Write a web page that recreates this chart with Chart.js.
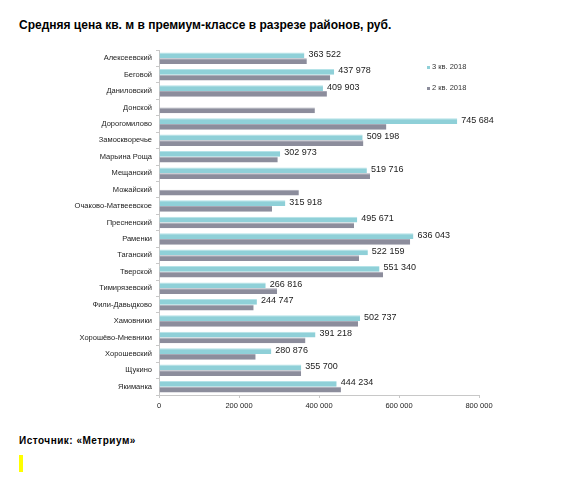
<!DOCTYPE html>
<html>
<head>
<meta charset="utf-8">
<script src="https://cdn.jsdelivr.net/npm/chart.js@4"></script>
<style>
  body { margin: 0; background: #fff; font-family: "Liberation Sans", Arial, sans-serif; }
  #wrap { position: relative; width: 561px; height: 480px; }
  #title { position: absolute; left: 19px; top: 18px; font-size: 12px; font-weight: bold; color: #000; white-space: nowrap; }
  #chartBox { position: absolute; left: 0; top: 40px; width: 561px; height: 380px; }
  .leg { position: absolute; left: 427px; font-size: 7.5px; color: #333; white-space: nowrap; }
  .leg i { display: inline-block; width: 3px; height: 3px; margin-right: 2px; vertical-align: middle; }
  #source { position: absolute; left: 19px; top: 435px; font-size: 10px; letter-spacing: 0.5px; font-weight: bold; color: #000; white-space: nowrap; }
  #mark { position: absolute; left: 19px; top: 455px; width: 4px; height: 17px; background: #ffff00; }
</style>
</head>
<body>
<div id="wrap">
  <div id="title">Средняя цена кв. м в премиум-классе в разрезе районов, руб.</div>
  <div id="chartBox"><canvas id="priceChart"></canvas></div>
  <div class="leg" style="top:62px"><i style="background:#8fd0d8"></i>3 кв. 2018</div>
  <div class="leg" style="top:83px"><i style="background:#8c8d9c"></i>2 кв. 2018</div>
  <div id="source">Источник: «Метриум»</div>
  <div id="mark"></div>
</div>
<script>
const districts = ['Алексеевский', 'Беговой', 'Даниловский', 'Донской', 'Дорогомилово', 'Замоскворечье',
    'Марьина Роща', 'Мещанский', 'Можайский', 'Очаково-Матвеевское', 'Пресненский', 'Раменки', 'Таганский',
    'Тверской', 'Тимирязевский', 'Фили-Давыдково', 'Хамовники', 'Хорошёво-Мневники', 'Хорошевский',
    'Щукино', 'Якиманка'];

// 3 кв. 2018 (null where no data)
const q3_2018 = [363522, 437978, 409903, null, 745684, 509198, 302973, 519716, null, 315918, 495671,
    636043, 522159, 551340, 266816, 244747, 502737, 391218, 280876, 355700, 444234];

// 2 кв. 2018
const q2_2018 = [369600, 428000, 419800, 389700, 568500, 511000, 296900, 527600, 349600, 282600, 487500,
    627900, 500000, 560200, 295200, 236700, 497500, 366200, 241700, 355300, 454900];

const xTicks = [0, 200000, 400000, 600000, 800000];

function fmt(v) {
    return String(v).replace(/\B(?=(\d{3})+(?!\d))/g, ' ');
}

// value labels right of the 3 кв. bars
const valueLabels = {
    id: 'valueLabels',
    afterDatasetsDraw(chart) {
        const ctx = chart.ctx;
        const meta = chart.getDatasetMeta(0);
        ctx.save();
        ctx.font = '9px "Liberation Sans", Arial, sans-serif';
        ctx.fillStyle = '#222';
        ctx.textBaseline = 'middle';
        meta.data.forEach((bar, i) => {
            const v = q3_2018[i];
            if (v == null) return;
            ctx.fillText(fmt(v), bar.x + 4, bar.y - 1);
        });
        ctx.restore();
    }
};

const ctx = document.getElementById('priceChart').getContext('2d');

new Chart(ctx, {
    type: 'bar',
    data: {
        labels: districts,
        datasets: [
            {
                label: '3 кв. 2018',
                data: q3_2018,
                backgroundColor: '#8fd0d8',
                borderColor: '#b5e3e8',
                borderWidth: { top: 1, right: 0, bottom: 0, left: 0 },
                borderSkipped: false
            },
            {
                label: '2 кв. 2018',
                data: q2_2018,
                backgroundColor: '#8c8d9c',
                borderColor: '#a6a7b4',
                borderWidth: { top: 1, right: 0, bottom: 0, left: 0 },
                borderSkipped: false
            }
        ]
    },
    options: {
        indexAxis: 'y',
        responsive: true,
        maintainAspectRatio: false,
        animation: false,
        layout: { padding: { top: 10, right: 82, left: 0, bottom: 0 } },
        datasets: { bar: { categoryPercentage: 0.7, barPercentage: 1.0 } },
        plugins: {
            legend: { display: false },
            tooltip: { enabled: false }
        },
        scales: {
            x: {
                min: 0,
                max: 800000,
                afterFit(scale) { scale.height = 25; },
                afterBuildTicks(scale) { scale.ticks = xTicks.map(v => ({ value: v })); },
                border: { display: true, color: '#c8c8c8', width: 1 },
                grid: { drawOnChartArea: false, drawTicks: true, tickLength: 3, color: '#c8c8c8' },
                ticks: {
                    color: '#222',
                    padding: 3,
                    font: { family: '"Liberation Sans", Arial, sans-serif', size: 7.5 },
                    callback: v => fmt(v)
                }
            },
            y: {
                afterFit(scale) { scale.width = 159; },
                border: { display: true, color: '#c8c8c8', width: 1 },
                grid: { offset: true, drawOnChartArea: false, drawTicks: true, tickLength: 3, color: '#c8c8c8' },
                ticks: {
                    color: '#222',
                    padding: 4,
                    autoSkip: false,
                    font: { family: '"Liberation Sans", Arial, sans-serif', size: 7.5 }
                }
            }
        }
    },
    plugins: [valueLabels]
});
</script>
</body>
</html>
